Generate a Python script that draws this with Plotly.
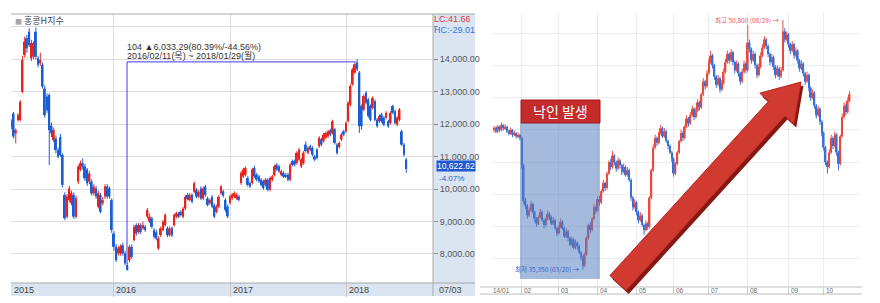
import math
import pandas as pd
import plotly.graph_objects as go

# ======================= LEFT CHART DATA (weekly, 홍콩H지수) =======================
L_START = "2015-02-13"
L_OPEN = [
    11920, 12330, 11720, 12130, 12130, 13000, 14130, 14650, 14850, 14030,
    14080, 14850, 14030, 13880, 13830, 13100, 12850, 12900, 11950, 11510,
    11560, 11200, 11600, 11050, 9820, 9150, 9660, 9560, 9820, 9150,
    10230, 10600, 10800, 10700, 10600, 10230, 10230, 9870, 10020, 9460,
    9820, 9560, 9770, 10080, 10020, 9660, 8630, 8220, 8020, 8020,
    8270, 8020, 7660, 7810, 8220, 8430, 8890, 8680, 8890, 8790,
    8840, 9150, 9000, 9100, 8730, 8680, 8170, 8580, 8740, 8890,
    8790, 8580, 8790, 8890, 9150, 9250, 9300, 9150, 9400, 9820,
    9660, 9820, 9920, 9970, 9770, 10020, 9710, 10080, 9710, 9560,
    9760, 9500, 9300, 9460, 9870, 9930, 9670, 9460, 9570, 9720,
    9770, 9720, 9770, 10190, 10390, 10440, 10340, 10190, 10190, 10650,
    10440, 10390, 10290, 10240, 10130, 10290, 9980, 10290, 10440, 10750,
    10700, 10440, 10500, 10440, 10440, 10290, 10860, 10860, 10800, 10910,
    10700, 10800, 11370, 11120, 11320, 11270, 11010, 11220, 11320, 11530,
    11480, 11580, 11630, 11810, 11730, 11840, 11370, 11300, 11530, 11780,
    11780, 12100, 12600, 13230, 13590, 13900, 13590, 12560, 12450, 12970,
    12760, 12560, 12500, 12710, 12140, 12090, 12300, 12200, 12200, 12090,
    12040, 12560, 12400, 11990, 12140, 11780, 11370, 10910]
L_HIGH = [
    12150, 12380, 11870, 12340, 12740, 14100, 14700, 14750, 14960, 14600,
    14560, 14980, 14100, 14200, 13900, 13200, 12950, 12950, 12050, 11900,
    11650, 11280, 11700, 11100, 9900, 9850, 10100, 9950, 9900, 9800,
    10750, 10880, 10950, 10780, 10650, 10550, 10300, 10150, 10100, 9950,
    9880, 9750, 10150, 10150, 10080, 9720, 8700, 8300, 8250, 8300,
    8350, 8100, 7720, 8280, 8300, 8900, 8950, 8950, 8950, 9000,
    8900, 9420, 9250, 9150, 8800, 8750, 8550, 8850, 9050, 9260,
    8850, 8850, 8850, 9260, 9300, 9300, 9350, 9450, 9820, 9880,
    9880, 9870, 10230, 10030, 9980, 10080, 10080, 10130, 9770, 9720,
    9820, 9560, 9520, 9820, 10130, 9980, 9720, 9520, 9830, 9880,
    9930, 9880, 9830, 10560, 10660, 10700, 10400, 10240, 10660, 10720,
    10500, 10440, 10340, 10290, 10340, 10340, 10390, 10440, 10750, 10800,
    10750, 10600, 10550, 10500, 10500, 10800, 10910, 10910, 11170, 11270,
    10960, 11170, 11470, 11320, 11370, 11320, 11060, 11270, 11630, 11580,
    11730, 11780, 11830, 11860, 12140, 11890, 11420, 11470, 11730, 11830,
    12090, 12710, 13230, 13740, 13900, 14000, 13640, 12610, 12920, 13020,
    12810, 12610, 12860, 12760, 12190, 12300, 12350, 12250, 12400, 12140,
    12400, 12600, 12450, 12250, 12500, 11830, 11420, 10960]
L_LOW = [
    11850, 11560, 11410, 12080, 12080, 12950, 14050, 14200, 14380, 13950,
    14000, 14000, 13750, 13800, 13100, 12200, 12350, 10740, 11600, 11450,
    11100, 10950, 11000, 10050, 9040, 9100, 9600, 9500, 9080, 9100,
    10150, 10550, 10600, 10250, 10100, 10150, 9800, 9800, 9700, 9400,
    9250, 9500, 9700, 9700, 9700, 8650, 8100, 7750, 7950, 7950,
    7950, 7650, 7498, 7750, 7850, 8380, 8560, 8620, 8620, 8740,
    8680, 9100, 8950, 8780, 8470, 8420, 8120, 8520, 8700, 8850,
    8520, 8530, 8520, 8840, 9100, 9100, 9150, 9100, 9350, 9650,
    9620, 9560, 9870, 9720, 9720, 9660, 9660, 9770, 9460, 9510,
    9410, 9100, 9250, 9410, 9820, 9740, 9300, 9100, 9520, 9670,
    9720, 9670, 9620, 10130, 10340, 10390, 10080, 10030, 10140, 10340,
    10240, 10190, 10080, 9980, 10080, 9930, 9930, 10240, 10390, 10550,
    10500, 10390, 10340, 10340, 10240, 10240, 10700, 10700, 10750, 10860,
    10650, 10750, 11120, 11070, 11170, 11010, 10860, 10910, 11270, 11320,
    11430, 11530, 11580, 11630, 11680, 11370, 11060, 11250, 11480, 11630,
    11730, 12050, 12550, 13180, 13540, 13640, 11730, 11830, 12400, 12610,
    12200, 12090, 12450, 12090, 11890, 12040, 12040, 11940, 12150, 11890,
    11990, 12300, 11990, 11940, 12090, 11320, 11010, 10500]
L_CLOSE = [
    12080, 11620, 11820, 12280, 12690, 13980, 14545, 14340, 14440, 14500,
    14500, 14080, 13830, 13980, 13160, 12280, 12430, 11820, 11720, 11820,
    11200, 11000, 11050, 10130, 9100, 9770, 10020, 9870, 9150, 9720,
    10690, 10800, 10690, 10330, 10180, 10480, 9870, 10070, 9770, 9870,
    9300, 9660, 10080, 9770, 9770, 8740, 8220, 7810, 8170, 8220,
    8020, 7710, 7500, 8220, 7910, 8840, 8630, 8890, 8680, 8890,
    8740, 9350, 9150, 8840, 8530, 8480, 8480, 8790, 8990, 9200,
    8580, 8790, 8580, 9200, 9250, 9150, 9200, 9400, 9760, 9700,
    9820, 9610, 10180, 9770, 9920, 9710, 10020, 9820, 9510, 9660,
    9460, 9150, 9460, 9760, 10080, 9800, 9360, 9160, 9770, 9830,
    9880, 9830, 9670, 10500, 10600, 10650, 10130, 10080, 10600, 10390,
    10290, 10240, 10130, 10030, 10290, 9980, 10340, 10390, 10700, 10600,
    10550, 10550, 10390, 10390, 10290, 10750, 10750, 10750, 11120, 11220,
    10910, 11120, 11170, 11270, 11220, 11060, 10910, 10960, 11580, 11370,
    11680, 11730, 11780, 11680, 12090, 11420, 11110, 11420, 11680, 11680,
    12040, 12660, 13180, 13690, 13850, 13690, 11940, 11940, 12870, 12660,
    12250, 12140, 12810, 12140, 11940, 12250, 12090, 11990, 12350, 11940,
    12350, 12350, 12040, 12200, 12450, 11370, 11060, 10623]

L_TITLE = "홍콩H지수"
L_YTICKS = [8000, 9000, 10000, 11000, 12000, 13000, 14000, 15000]
L_XTICK_DATES = ["2016-01-01", "2017-01-01", "2018-01-01"]
L_XTICK_LABELS = ["2016", "2017", "2018"]
L_FIRST_LABEL = "2015"
L_LAST_DATE_LABEL = "07/03"
L_LAST_VALUE = 10622.62
L_LAST_CHANGE = "-4.07%"
L_LC = "LC:41.66"
L_HC = "HC:-29.01"
MEASURE_DATES = ["2016-02-11", "2016-02-11", "2018-01-29"]
MEASURE_VALUES = [7700, 13920, 13920]
MEASURE_TEXT_1 = "104 ▲6,033.29(80.39%/-44.56%)"
MEASURE_TEXT_2 = "2016/02/11(목) ~ 2018/01/29(월)"

# ======================= RIGHT CHART DATA (daily) =======================
R_OPEN = [
    44000, 44100, 43900, 44200, 44000, 44300, 44100, 44200, 43900, 43800,
    44000, 43700, 43800, 43600, 43700, 43500, 41800, 39600, 39300, 38700,
    39000, 39400, 38900, 38500, 38200, 38600, 38900, 38400, 38100, 38500,
    38800, 38600, 38200, 38400, 37900, 37600, 38000, 38300, 37900, 37400,
    37700, 37300, 36900, 37200, 36700, 37000, 36800, 36400, 36100, 35600,
    36300, 37300, 38100, 37800, 38500, 39200, 39000, 39700, 39500, 40200,
    40700, 40400, 41300, 42000, 41700, 42400, 42000, 41600, 42100, 41800,
    41400, 41700, 41200, 41500, 40900, 39800, 39200, 39500, 38900, 38400,
    38700, 38100, 37800, 38200, 38000, 39800, 41500, 42900, 43500, 43200,
    43800, 44100, 43600, 43900, 43300, 43000, 42600, 42200, 41300, 41900,
    42600, 43300, 43800, 43500, 44200, 44700, 44400, 44900, 45300, 44800,
    45200, 45700, 45400, 46200, 47000, 46700, 47500, 48200, 48600, 48000,
    47300, 46800, 47200, 46500, 46900, 47600, 48200, 48700, 48300, 48800,
    48200, 47700, 48100, 47500, 47000, 47600, 48100, 47700, 49400, 49000,
    48300, 48700, 48000, 47400, 47900, 48600, 49100, 49600, 49200, 48700,
    48200, 48500, 47900, 47400, 47800, 47300, 47700, 50100, 49600, 49900,
    49300, 48900, 49300, 48600, 48900, 48300, 47800, 48100, 47500, 47000,
    47400, 46600, 46000, 46300, 45500, 44900, 45300, 44500, 43800, 42900,
    42000, 41700, 42600, 43500, 43000, 43700, 42600, 41900, 43600, 44800,
    45500, 45100, 45800]
R_HIGH = [
    44250, 44200, 44300, 44250, 44450, 44350, 44350, 44250, 44000, 44150,
    44050, 43950, 43850, 43850, 43750, 43600, 41900, 39800, 39400, 39200,
    39600, 39500, 39000, 38600, 38700, 39100, 39000, 38500, 38600, 39000,
    38900, 38700, 38600, 38500, 38000, 38100, 38500, 38400, 38000, 37900,
    37800, 37400, 37400, 37300, 37200, 37100, 36900, 36500, 36200, 36400,
    37400, 38200, 38300, 38600, 39400, 39300, 39900, 39900, 40300, 40900,
    40800, 41400, 42100, 42200, 42700, 42500, 42100, 42300, 42200, 41900,
    41900, 41800, 41700, 41600, 41000, 39900, 39700, 39600, 39000, 38900,
    38800, 38200, 38400, 38300, 39900, 41600, 43100, 43700, 43600, 43900,
    44300, 44200, 44100, 44000, 43400, 43100, 42700, 42300, 42000, 42700,
    43400, 44000, 43900, 44300, 44900, 44800, 45100, 45500, 45400, 45400,
    45900, 45800, 46300, 47200, 47100, 47700, 48400, 48900, 48700, 48100,
    47400, 47400, 47300, 47100, 47800, 48400, 48900, 48800, 49000, 48900,
    48300, 48300, 48200, 47600, 47800, 48300, 48200, 50500, 49600, 49100,
    48900, 48800, 48100, 48100, 48800, 49300, 49800, 49700, 49300, 48800,
    48700, 48600, 48000, 48000, 47900, 47900, 50800, 50300, 50100, 50000,
    49400, 49500, 49400, 49100, 49000, 48400, 48300, 48200, 47600, 47600,
    47500, 46700, 46500, 46400, 45600, 45500, 45400, 44600, 43900, 43000,
    42100, 42800, 43700, 43600, 43900, 43800, 42700, 43700, 45000, 45700,
    45600, 46000, 46400]
R_LOW = [
    43850, 43800, 43800, 43850, 43900, 43950, 44000, 43800, 43650, 43700,
    43550, 43600, 43450, 43500, 43350, 41600, 39400, 39100, 38500, 38600,
    38900, 38800, 38300, 38000, 38100, 38500, 38300, 37900, 38000, 38400,
    38400, 38100, 38100, 37800, 37400, 37500, 37900, 37800, 37300, 37300,
    37100, 36800, 36800, 36600, 36600, 36600, 36300, 35900, 35350, 35500,
    36200, 37200, 37600, 37700, 38400, 38800, 38900, 39300, 39400, 40100,
    40200, 40300, 41200, 41500, 41600, 41800, 41400, 41500, 41600, 41200,
    41300, 41100, 41100, 40800, 39600, 39000, 39100, 38700, 38200, 38300,
    38000, 37500, 37700, 37800, 37900, 39700, 41400, 42800, 43000, 43100,
    43700, 43500, 43500, 43200, 42800, 42500, 42000, 41100, 41200, 41800,
    42500, 43200, 43300, 43400, 44100, 44200, 44300, 44800, 44600, 44700,
    45100, 45200, 45300, 46100, 46500, 46600, 47400, 48100, 47800, 47100,
    46600, 46700, 46300, 46400, 46800, 47500, 48100, 48100, 48200, 48000,
    47500, 47600, 47300, 46800, 46900, 47500, 47500, 47600, 48800, 48100,
    48200, 47800, 47200, 47300, 47800, 48500, 49000, 49000, 48500, 48000,
    48100, 47700, 47200, 47300, 47100, 47200, 47600, 49400, 49500, 49100,
    48700, 48800, 48400, 48500, 48100, 47600, 47700, 47300, 46800, 46900,
    46400, 45800, 45900, 45300, 44700, 44800, 44300, 43600, 42700, 41800,
    41300, 41600, 42500, 42800, 42900, 42400, 41500, 41800, 43500, 44700,
    44900, 45000, 45700]
R_CLOSE = [
    44100, 43900, 44200, 44000, 44300, 44100, 44200, 43900, 43800, 44000,
    43700, 43800, 43600, 43700, 43500, 41800, 39600, 39300, 38700, 39000,
    39400, 38900, 38500, 38200, 38600, 38900, 38400, 38100, 38500, 38800,
    38600, 38200, 38400, 37900, 37600, 38000, 38300, 37900, 37400, 37700,
    37300, 36900, 37200, 36700, 37000, 36800, 36400, 36100, 35600, 36300,
    37300, 38100, 37800, 38500, 39200, 39000, 39700, 39500, 40200, 40700,
    40400, 41300, 42000, 41700, 42400, 42000, 41600, 42100, 41800, 41400,
    41700, 41200, 41500, 40900, 39800, 39200, 39500, 38900, 38400, 38700,
    38100, 37800, 38200, 38000, 39800, 41500, 42900, 43500, 43200, 43800,
    44100, 43600, 43900, 43300, 43000, 42600, 42200, 41300, 41900, 42600,
    43300, 43800, 43500, 44200, 44700, 44400, 44900, 45300, 44800, 45200,
    45700, 45400, 46200, 47000, 46700, 47500, 48200, 48600, 48000, 47300,
    46800, 47200, 46500, 46900, 47600, 48200, 48700, 48300, 48800, 48200,
    47700, 48100, 47500, 47000, 47600, 48100, 47700, 49400, 49000, 48300,
    48700, 48000, 47400, 47900, 48600, 49100, 49600, 49200, 48700, 48200,
    48500, 47900, 47400, 47800, 47300, 47700, 50100, 49600, 49900, 49300,
    48900, 49300, 48600, 48900, 48300, 47800, 48100, 47500, 47000, 47400,
    46600, 46000, 46300, 45500, 44900, 45300, 44500, 43800, 42900, 42000,
    41700, 42600, 43500, 43000, 43700, 42600, 41900, 43600, 44800, 45500,
    45100, 45800, 46200]
R_MONTH_IDX = [0, 15, 35, 56, 77, 97, 116, 137, 159, 178]
R_MONTH_LABELS = ["14/01", "02", "03", "04", "05", "06", "07", "08", "09", "10"]
R_YGRID = [36000, 38000, 40000, 42000, 44000, 46000, 48000, 50000]
R_HIGH_IDX, R_HIGH_VAL, R_HIGH_TEXT = 156, 50800, "최고 50,800 (08/29) →"
R_LOW_IDX, R_LOW_VAL, R_LOW_TEXT = 48, 35350, "최저 35,350 (03/20) →"
KNOCK_TEXT = "낙인 발생"

# ======================= helpers =======================
W, H = 880, 303
NARROW = "Liberation Sans Narrow, Arial Narrow, Liberation Sans, Noto Sans CJK KR, sans-serif"
KR = "Noto Sans CJK KR, Noto Sans, sans-serif"


def px(x):
    return x / W


def py(y):
    return 1 - y / H


def add_candles(fig, x, o, h, l, c, up_col, dn_col, width, xa, ya):
    up = [i for i in range(len(c)) if c[i] >= o[i]]
    dn = [i for i in range(len(c)) if c[i] < o[i]]
    for idxs, col in ((up, up_col), (dn, dn_col)):
        wx, wy = [], []
        for i in idxs:
            wx += [x[i], x[i], None]
            wy += [l[i], h[i], None]
        fig.add_trace(go.Scatter(x=wx, y=wy, mode="lines", line=dict(color=col, width=1),
                                 xaxis=xa, yaxis=ya, hoverinfo="skip", showlegend=False))
        fig.add_trace(go.Bar(x=[x[i] for i in idxs],
                             y=[max(abs(c[i] - o[i]), 20) for i in idxs],
                             base=[min(o[i], c[i]) for i in idxs],
                             width=width, marker=dict(color=col, line=dict(width=0)),
                             xaxis=xa, yaxis=ya, hoverinfo="skip", showlegend=False))


fig = go.Figure()

# ---------- left chart ----------
L_DATES = pd.date_range(L_START, periods=len(L_CLOSE), freq="7D").strftime("%Y-%m-%d").tolist()
add_candles(fig, L_DATES, L_OPEN, L_HIGH, L_LOW, L_CLOSE, "#e8231d", "#1a5ed6",
            6 * 86400000, "x", "y")
fig.add_trace(go.Scatter(x=MEASURE_DATES, y=MEASURE_VALUES, mode="lines",
                         line=dict(color="#3f3cf5", width=1), xaxis="x", yaxis="y",
                         hoverinfo="skip", showlegend=False))

# ---------- right chart ----------
R_X = list(range(len(R_CLOSE)))
add_candles(fig, R_X, R_OPEN, R_HIGH, R_LOW, R_CLOSE, "#ea4a40", "#3a70d8", 0.85, "x2", "y2")

shapes = []
PANEL = "#dbe5f1"
# left y-axis panel and date band
shapes.append(dict(type="rect", xref="paper", yref="paper", x0=px(433), x1=px(475),
                   y0=py(296), y1=py(14), fillcolor=PANEL, line=dict(width=0), layer="below"))
shapes.append(dict(type="rect", xref="paper", yref="paper", x0=px(11), x1=px(433),
                   y0=py(296), y1=py(283), fillcolor=PANEL, line=dict(width=0), layer="below"))
for (x0, y0, x1, y1) in [(11, 14, 475, 14), (11, 283, 475, 283), (433, 14, 433, 296)]:
    shapes.append(dict(type="line", xref="paper", yref="paper", x0=px(x0), x1=px(x1),
                       y0=py(y0), y1=py(y1), line=dict(color="#a9a9a9", width=1)))
# right date band lines
for yy in (287, 294):
    shapes.append(dict(type="line", xref="paper", yref="paper", x0=px(480), x1=px(862),
                       y0=py(yy), y1=py(yy), line=dict(color="#bdbdbd", width=1)))
# knock-in shaded zone
shapes.append(dict(type="rect", xref="paper", yref="paper", x0=px(520), x1=px(600),
                   y0=py(279), y1=py(122), fillcolor="rgba(80,125,192,0.52)",
                   line=dict(width=0), layer="above"))
# knock-in label box
shapes.append(dict(type="rect", xref="paper", yref="paper", x0=px(521), x1=px(600),
                   y0=py(123), y1=py(100), fillcolor="#c42b2b",
                   line=dict(color="#9e1c1c", width=1), layer="above"))

# big red arrow
tail, tip = (618.0, 283.0), (801.0, 82.0)
dx, dy = tip[0] - tail[0], tip[1] - tail[1]
ln = math.hypot(dx, dy)
ux, uy = dx / ln, dy / ln
nx, ny = -uy, ux
sw, hw, hl = 11.0, 23.0, 36.0
bx, by = tip[0] - hl * ux, tip[1] - hl * uy
pts = [(tail[0] + sw * nx, tail[1] + sw * ny), (bx + sw * nx, by + sw * ny),
       (bx + hw * nx, by + hw * ny), tip, (bx - hw * nx, by - hw * ny),
       (bx - sw * nx, by - sw * ny), (tail[0] - sw * nx, tail[1] - sw * ny)]


def poly(points, ox=0.0, oy=0.0):
    return "M " + " L ".join(f"{px(a + ox):.5f},{py(b + oy):.5f}" for a, b in points) + " Z"


shapes.append(dict(type="path", xref="paper", yref="paper", path=poly(pts, 2.5, 3.5),
                   fillcolor="#861812", line=dict(width=0), layer="above"))
shapes.append(dict(type="path", xref="paper", yref="paper", path=poly(pts),
                   fillcolor="#d13a30", line=dict(color="#b52a22", width=1), layer="above"))

ann = []


def text(x, y, s, size, color, family=NARROW, xanchor="left", xref="paper", yref="paper",
         **kw):
    ann.append(dict(x=x, y=y, xref=xref, yref=yref, text=s, showarrow=False,
                    xanchor=xanchor, yanchor="middle", font=dict(size=size, color=color,
                                                                 family=family), **kw))


text(px(13), py(20.5), "<span style='font-size:7px;color:#a8a8a8'>■</span> " + L_TITLE,
     9, "#444444", family=KR)
text(MEASURE_DATES[0], py(46.5), MEASURE_TEXT_1, 9, "#333333", xref="x", xshift=-2)
text(MEASURE_DATES[0], py(55.5), MEASURE_TEXT_2, 9, "#333333", xref="x", xshift=-2)
text(px(432), py(18.5), L_LC, 9, "#e23b3b")
text(px(432), py(29.5), L_HC, 9, "#3573d8")
ann.append(dict(x=px(436), y=L_LAST_VALUE, xref="paper", yref="y",
                text=f"{L_LAST_VALUE:,.2f}", showarrow=False, xanchor="left", yanchor="middle",
                bgcolor="#1f58cf", borderpad=0, yshift=3,
                font=dict(size=8.5, color="white", family=NARROW)))
text(px(437), py(178), L_LAST_CHANGE, 8, "#2a62d6")
text(px(12), py(289.5), L_FIRST_LABEL, 9, "#444444")
for d, lab in zip(L_XTICK_DATES, L_XTICK_LABELS):
    text(d, py(289.5), lab, 9, "#444444", xref="x", xshift=0)
text(px(437), py(289.5), L_LAST_DATE_LABEL, 9, "#444444")

for i, lab in zip(R_MONTH_IDX, R_MONTH_LABELS):
    text(i, py(290.5), lab, 6.5, "#707070", xref="x2", xshift=0 if i else -3)
text(R_HIGH_IDX, R_HIGH_VAL, R_HIGH_TEXT, 6.5, "#ef5656", family=KR, xanchor="right",
     xref="x2", yref="y2", xshift=-1)
text(R_LOW_IDX, R_LOW_VAL, R_LOW_TEXT, 6.5, "#3d5ccc", family=KR, xanchor="right",
     xref="x2", yref="y2", xshift=-1)
text(px(560.5), py(111.5), KNOCK_TEXT, 14, "white", family=KR, xanchor="center")

fig.update_layout(
    width=W, height=H, autosize=False, margin=dict(l=0, r=0, t=0, b=0),
    paper_bgcolor="white", plot_bgcolor="white", showlegend=False, barmode="overlay",
    shapes=shapes, annotations=ann, hovermode=False,
    xaxis=dict(domain=[px(11), px(433)], type="date", range=["2015-02-12", "2018-09-28"],
               tickvals=L_XTICK_DATES, showticklabels=False, showgrid=True,
               gridcolor="#dddddd", ticks="outside", ticklen=13, tickcolor="#c8c8c8",
               zeroline=False, anchor="y", fixedrange=True),
    yaxis=dict(domain=[py(283), py(14)], range=[7106, 15396], side="right", anchor="x",
               tickvals=L_YTICKS,
               ticktext=[f"{v:,.2f}" if v != L_YTICKS[-1] else "" for v in L_YTICKS],
               ticks="outside", ticklen=4, tickcolor="#8a8a8a",
               tickfont=dict(size=9, color="#555555", family=NARROW),
               showgrid=True, gridcolor="#dddddd", zeroline=False, fixedrange=True),
    xaxis2=dict(domain=[px(492), px(860)], range=[-1.08, 197.6], tickvals=R_MONTH_IDX[1:],
                showticklabels=False, showgrid=True, gridcolor="#ececec", ticks="outside",
                ticklen=7, tickcolor="#cfcfcf", zeroline=False, anchor="y2", fixedrange=True),
    yaxis2=dict(domain=[py(287), py(13)], range=[34265, 51239], tickvals=R_YGRID,
                showticklabels=False, showgrid=True, gridcolor="#ececec", zeroline=False,
                anchor="x2", fixedrange=True),
)

fig.write_html("out.html")
